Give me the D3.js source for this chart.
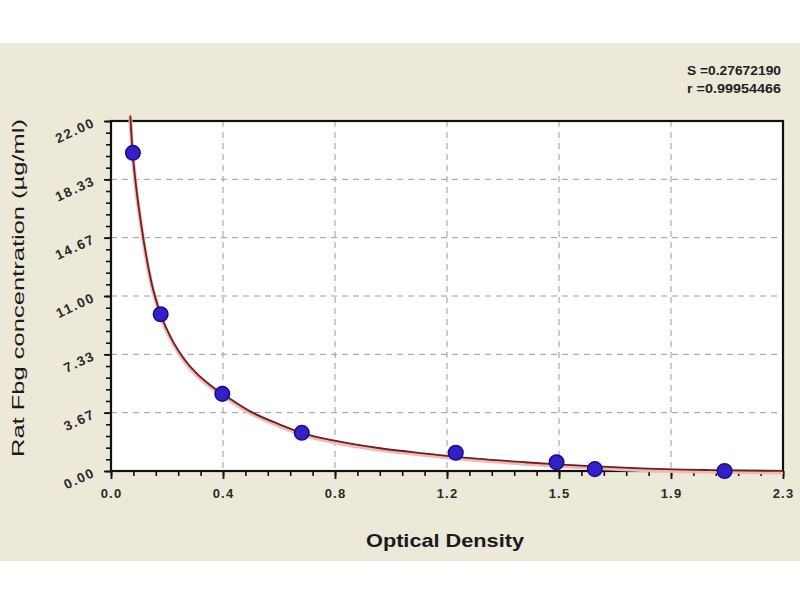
<!DOCTYPE html>
<html>
<head>
<meta charset="utf-8">
<script src="https://cdn.jsdelivr.net/npm/d3@7"></script>
<style>
  html, body { margin: 0; padding: 0; background: #ffffff; }
  svg { display: block; }
  text { font-family: Arial, "Liberation Sans", sans-serif; }
</style>
</head>
<body>
<svg id="chart" width="800" height="600"></svg>
<script>
// ---- data ----
const pointOD    = [0.075, 0.170, 0.381, 0.653, 1.180, 1.525, 1.656, 2.100];
const pointConc  = [20.0, 9.85, 4.85, 2.40, 1.15, 0.55, 0.12, 0.0];

const curveOD    = [0.066, 0.074, 0.082, 0.105, 0.139, 0.170, 0.213, 0.247, 0.293, 0.339, 0.382, 0.476, 0.578, 0.653, 0.761, 0.921, 1.069, 1.250, 1.417, 1.525, 1.673, 1.793, 2.050, 2.300];
const curveConc  = [22.35, 20.0, 18.5, 15.3, 11.8, 9.85, 8.1, 7.12, 6.13, 5.41, 4.85, 3.75, 2.92, 2.40, 1.92, 1.43, 1.11, 0.78, 0.55, 0.42, 0.28, 0.18, 0.06, 0.0];

const xTickLabels = ["0.0", "0.4", "0.8", "1.2", "1.5", "1.9", "2.3"];
const yTickLabels = ["0.00", "3.67", "7.33", "11.00", "14.67", "18.33", "22.00"];
const xMax = 2.3, yMax = 22;
const statLines = ["S =0.27672190", "r =0.99954466"];
const xTitle = "Optical Density";
const yTitle = "Rat Fbg concentration (\u00b5g/ml)";

// ---- layout ----
const svg = d3.select("#chart");
const L = 111, R = 783, T = 121, B = 471;

svg.append("rect").attr("x", 0).attr("y", 43).attr("width", 800).attr("height", 518)
  .attr("fill", "#ece9d8");

const x = d3.scaleLinear().domain([0, xMax]).range([L, R]);
const y = d3.scaleLinear().domain([0, yMax]).range([B, T]);

const xMajor = xTickLabels.map((d, i) => i * xMax / (xTickLabels.length - 1));
const yMajor = yTickLabels.map((d, i) => i * yMax / (yTickLabels.length - 1));
const xMinor = d3.range(0, (xTickLabels.length - 1) * 5 + 1).map(i => i * xMax / ((xTickLabels.length - 1) * 5));
const yMinor = d3.range(0, (yTickLabels.length - 1) * 5 + 1).map(i => i * yMax / ((yTickLabels.length - 1) * 5));

// plot background
svg.append("rect").attr("x", L).attr("y", T).attr("width", R - L).attr("height", B - T)
  .attr("fill", "#ffffff");

// grid
const grid = svg.append("g").attr("stroke", "#9a9a9a").attr("stroke-width", 1)
  .attr("stroke-dasharray", "6,5");
grid.selectAll("line.v").data(xMajor.slice(1, -1)).join("line")
  .attr("x1", d => x(d)).attr("x2", d => x(d)).attr("y1", T).attr("y2", B);
grid.selectAll("line.h").data(yMajor.slice(1, -1)).join("line")
  .attr("y1", d => y(d)).attr("y2", d => y(d)).attr("x1", L).attr("x2", R);

// minor ticks
const xMinorAxis = d3.axisBottom(x).tickValues(xMinor).tickSize(5).tickFormat("");
const yMinorAxis = d3.axisLeft(y).tickValues(yMinor).tickSize(5).tickFormat("");
svg.append("g").attr("transform", `translate(0,${B})`).call(xMinorAxis)
  .call(g => g.select(".domain").remove())
  .selectAll("line").attr("stroke", "#111").attr("stroke-width", 1.6);
svg.append("g").attr("transform", `translate(${L},0)`).call(yMinorAxis)
  .call(g => g.select(".domain").remove())
  .selectAll("line").attr("stroke", "#111").attr("stroke-width", 1.6);

// major axes
const xAxis = d3.axisBottom(x).tickValues(xMajor).tickSize(8).tickPadding(10)
  .tickFormat((d, i) => xTickLabels[i]);
const gx = svg.append("g").attr("transform", `translate(0,${B})`).call(xAxis);
gx.select(".domain").remove();
gx.selectAll("line").attr("stroke", "#111").attr("stroke-width", 1.8);
gx.selectAll("text").attr("font-size", 13).attr("font-weight", "bold")
  .attr("fill", "#2a2a2a").attr("letter-spacing", "1.2px");

const yAxis = d3.axisLeft(y).tickValues(yMajor).tickSize(7).tickFormat((d, i) => yTickLabels[i]);
const gy = svg.append("g").attr("transform", `translate(${L},0)`).call(yAxis);
gy.select(".domain").remove();
gy.selectAll("line").attr("stroke", "#111").attr("stroke-width", 1.8);
gy.selectAll("text")
  .attr("x", -17).attr("dy", "0.35em")
  .attr("transform", "rotate(-25,-17,0)")
  .attr("font-size", 13.5).attr("font-weight", "bold")
  .attr("fill", "#2a2a2a").attr("letter-spacing", "1.6px");

// frame
svg.append("rect").attr("x", L).attr("y", T).attr("width", R - L).attr("height", B - T)
  .attr("fill", "none").attr("stroke", "#111").attr("stroke-width", 2.2);

// fitted curve
const line = d3.line().x(d => x(d[0])).y(d => y(d[1])).curve(d3.curveMonotoneX);
const curveData = curveOD.map((d, i) => [d, curveConc[i]]);
svg.append("path").datum(curveData).attr("d", line)
  .attr("fill", "none").attr("stroke", "#f2b8b8").attr("stroke-width", 4)
  .attr("transform", "translate(0,1.5)");
svg.append("path").datum(curveData).attr("d", line)
  .attr("fill", "none").attr("stroke", "#6e1f1f").attr("stroke-width", 1.8);

// points
svg.append("g").selectAll("circle").data(pointOD.map((d, i) => [d, pointConc[i]])).join("circle")
  .attr("cx", d => x(d[0])).attr("cy", d => y(d[1])).attr("r", 7.3)
  .attr("fill", "#3320c8").attr("stroke", "#190c88").attr("stroke-width", 1.5);

// titles
svg.append("text").attr("x", 445).attr("y", 547).attr("text-anchor", "middle")
  .attr("font-size", 19).attr("font-weight", "bold").attr("fill", "#1a1a1a")
  .attr("textLength", 158).attr("lengthAdjust", "spacingAndGlyphs")
  .text(xTitle);

svg.append("text").attr("transform", "translate(24,288) rotate(-90)")
  .attr("text-anchor", "middle").attr("font-size", 17).attr("fill", "#1a1a1a")
  .attr("textLength", 338).attr("lengthAdjust", "spacingAndGlyphs")
  .text(yTitle);

// stats
svg.append("g").selectAll("text").data(statLines).join("text")
  .attr("x", 781).attr("y", (d, i) => 75 + i * 18).attr("text-anchor", "end")
  .attr("font-size", 12).attr("font-weight", "bold").attr("fill", "#222")
  .attr("textLength", 94).attr("lengthAdjust", "spacingAndGlyphs")
  .text(d => d);
</script>
</body>
</html>
